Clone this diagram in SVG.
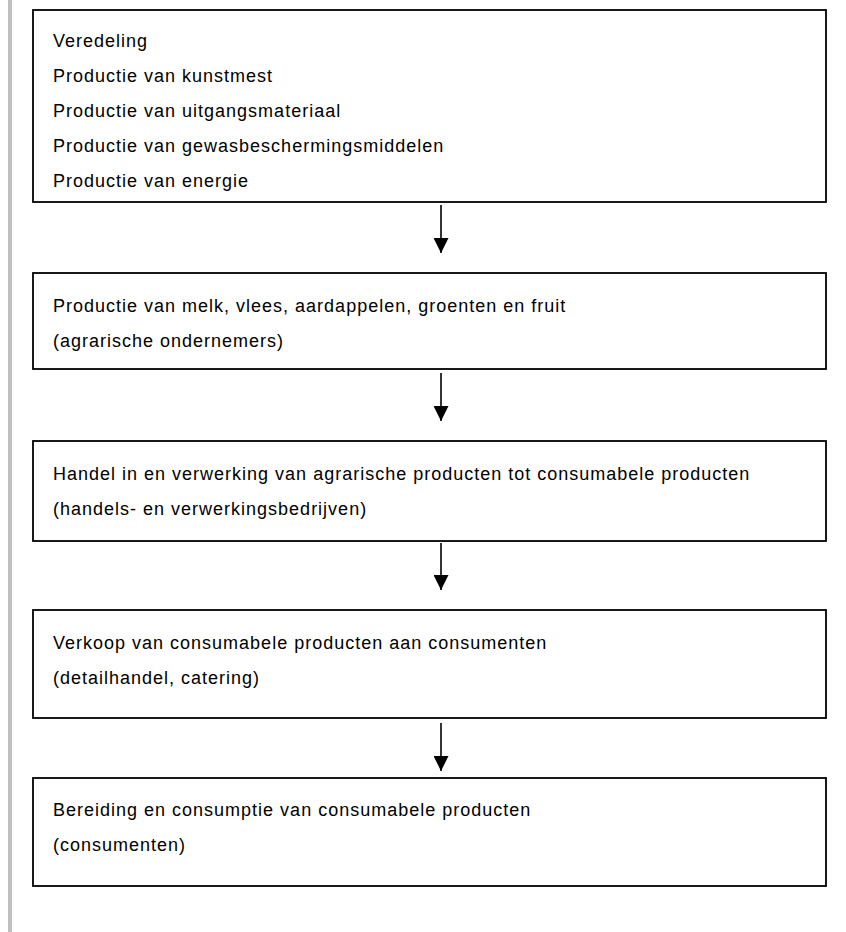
<svg xmlns="http://www.w3.org/2000/svg" width="846" height="932" viewBox="0 0 846 932">
<style>
.box{fill:#fff;stroke:#000;stroke-width:1.8}
.t{font-family:"Liberation Sans",Arial,sans-serif;font-size:18px;letter-spacing:1px;fill:#000}
.c{stroke:#000;stroke-width:1.6;fill:none}
</style>
<defs>
<marker id="ah" viewBox="0 0 15 15" refX="15" refY="7.5" markerWidth="15" markerHeight="15" markerUnits="userSpaceOnUse" orient="auto">
<path d="M0,0 L15,7.5 L0,15 Z" fill="#000"/>
</marker>
</defs>
<rect width="846" height="932" fill="#fff"/>
<rect x="8" y="0" width="4" height="932" fill="#c0c0c0"/>
<g id="n1">
<rect class="box" x="33" y="10" width="793" height="192"/>
<text class="t" x="53" y="47">Veredeling</text>
<text class="t" x="53" y="82">Productie van kunstmest</text>
<text class="t" x="53" y="117">Productie van uitgangsmateriaal</text>
<text class="t" x="53" y="152">Productie van gewasbeschermingsmiddelen</text>
<text class="t" x="53" y="187">Productie van energie</text>
</g>
<g id="n2">
<rect class="box" x="33" y="273" width="793" height="96"/>
<text class="t" x="53" y="312">Productie van melk, vlees, aardappelen, groenten en fruit</text>
<text class="t" x="53" y="347">(agrarische ondernemers)</text>
</g>
<g id="n3">
<rect class="box" x="33" y="441" width="793" height="100"/>
<text class="t" x="53" y="480">Handel in en verwerking van agrarische producten tot consumabele producten</text>
<text class="t" x="53" y="515">(handels- en verwerkingsbedrijven)</text>
</g>
<g id="n4">
<rect class="box" x="33" y="610" width="793" height="108"/>
<text class="t" x="53" y="649">Verkoop van consumabele producten aan consumenten</text>
<text class="t" x="53" y="684">(detailhandel, catering)</text>
</g>
<g id="n5">
<rect class="box" x="33" y="778" width="793" height="108"/>
<text class="t" x="53" y="816">Bereiding en consumptie van consumabele producten</text>
<text class="t" x="53" y="851">(consumenten)</text>
</g>
<g id="connectors">
<line class="c" x1="441" y1="205" x2="441" y2="253" marker-end="url(#ah)"/>
<line class="c" x1="441" y1="373" x2="441" y2="421" marker-end="url(#ah)"/>
<line class="c" x1="441" y1="543" x2="441" y2="590" marker-end="url(#ah)"/>
<line class="c" x1="441" y1="723" x2="441" y2="771" marker-end="url(#ah)"/>
</g>
</svg>
